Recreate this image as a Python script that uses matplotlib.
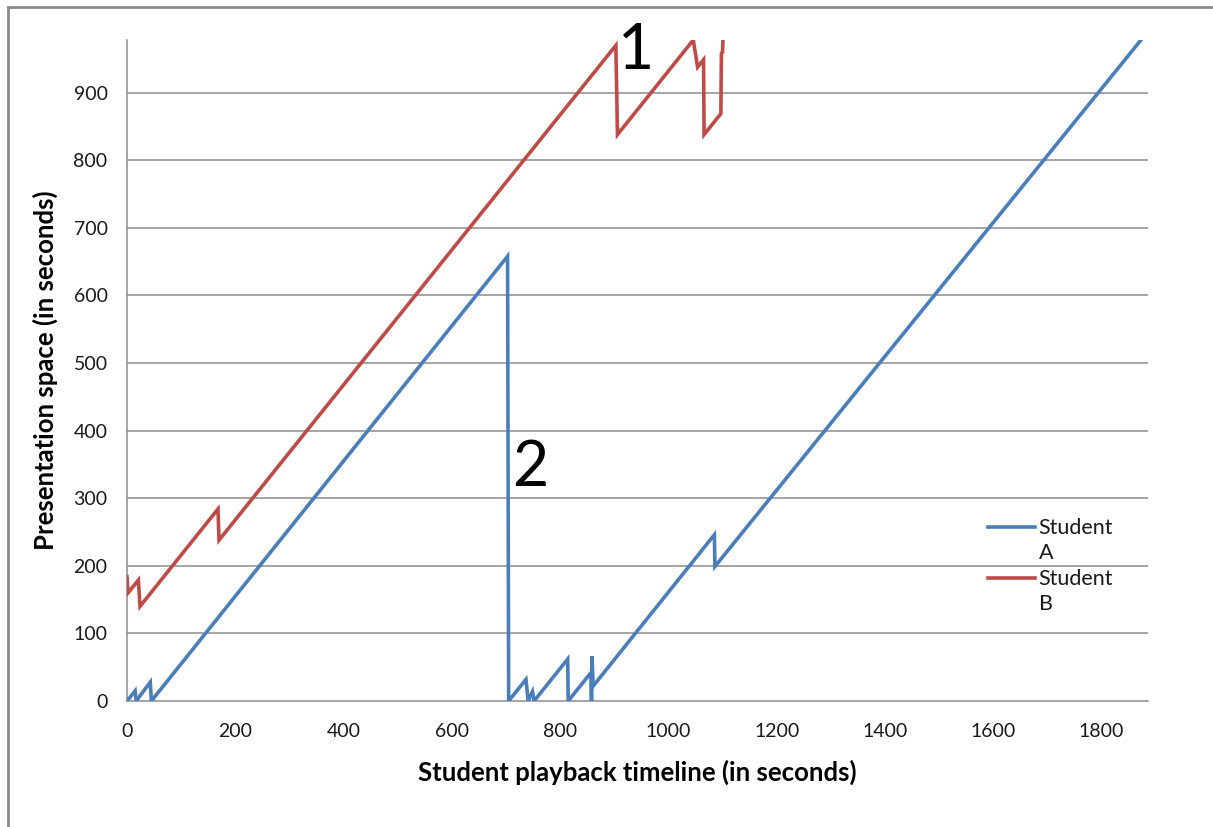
import matplotlib
matplotlib.use("Agg")
import matplotlib.pyplot as plt
from matplotlib.patches import Rectangle

plt.rcParams['font.family'] = ['Lato', 'DejaVu Sans']

# data (playback time, presentation position)
blue_x = [0, 15, 17, 43, 45, 703, 705, 737, 741, 749, 752, 814, 815, 857, 858, 859, 861, 1085, 1086, 1880]
blue_y = [0, 15, 0, 28, 0, 658, 0, 32, 0, 14, 0, 62, 0, 42, 0, 66, 22, 246, 199, 985]

red_x = [0, 2, 21, 24, 168, 170, 903, 906, 1046, 1054, 1065, 1066, 1097, 1098, 1100, 1102]
red_y = [184, 160, 179, 140, 284, 238, 970, 838, 978, 938, 949, 838, 869, 958, 960, 1000]

series_names = ["Student\nA", "Student\nB"]
series_colors = ["#4a7ebb", "#be4b48"]

x_ticks = [0, 200, 400, 600, 800, 1000, 1200, 1400, 1600, 1800]
y_ticks = [0, 100, 200, 300, 400, 500, 600, 700, 800, 900]

fig = plt.figure(figsize=(12.13, 8.27), dpi=100)
ax = fig.add_axes([127 / 1213, 126 / 827, 1021 / 1213, 661 / 827])

# grid lines first so the data sit on top
for yv in y_ticks[1:]:
    ax.axhline(yv, color="#8c8c8c", lw=1.1, zorder=1)

ax.plot(blue_x, blue_y, color=series_colors[0], lw=2.6, zorder=3, solid_joinstyle="miter")
ax.plot(red_x, red_y, color=series_colors[1], lw=2.6, zorder=3, solid_joinstyle="miter")

ax.set_xlim(0, 1886)
ax.set_ylim(0, 978)
ax.set_xticks(x_ticks)
ax.set_yticks(y_ticks)
ax.tick_params(length=0, labelsize=14, colors="#1a1a1a")
ax.tick_params(axis="x", pad=16)
ax.tick_params(axis="y", pad=14)

for s in ["top", "right"]:
    ax.spines[s].set_visible(False)
ax.spines["left"].set_color("#8c8c8c")
ax.spines["bottom"].set_color("#8c8c8c")
ax.spines["left"].set_linewidth(1.1)
ax.spines["bottom"].set_linewidth(1.1)

ax.set_xlabel("Student playback timeline (in seconds)", fontsize=18.5, fontweight="bold", labelpad=14)
ax.set_ylabel("Presentation space (in seconds)", fontsize=18.5, fontweight="bold", labelpad=11)

# big annotation numbers
ax.text(940, 961, "1", fontsize=45, ha="center", va="center", clip_on=False, zorder=4)
ax.text(745, 345, "2", fontsize=45, ha="center", va="center", zorder=4)

# legend drawn the way Excel wraps it
leg_y = [0.263, 0.186]
for name, col, ly in zip(series_names, series_colors, leg_y):
    ax.plot([0.843, 0.889], [ly, ly], color=col, lw=2.6, transform=ax.transAxes, clip_on=False)
    ax.text(0.893, ly + 0.014, name, transform=ax.transAxes, fontsize=15.5,
            ha="left", va="top", color="#1a1a1a", linespacing=1.3)

# outer chart frame (left and top edges visible)
fig.add_artist(Rectangle((8 / 1213, -0.2), 1.5, 1.2 - 7 / 827, transform=fig.transFigure,
                         fill=False, edgecolor="#8a8a8a", lw=2))

fig.savefig("out.png", dpi=100)
